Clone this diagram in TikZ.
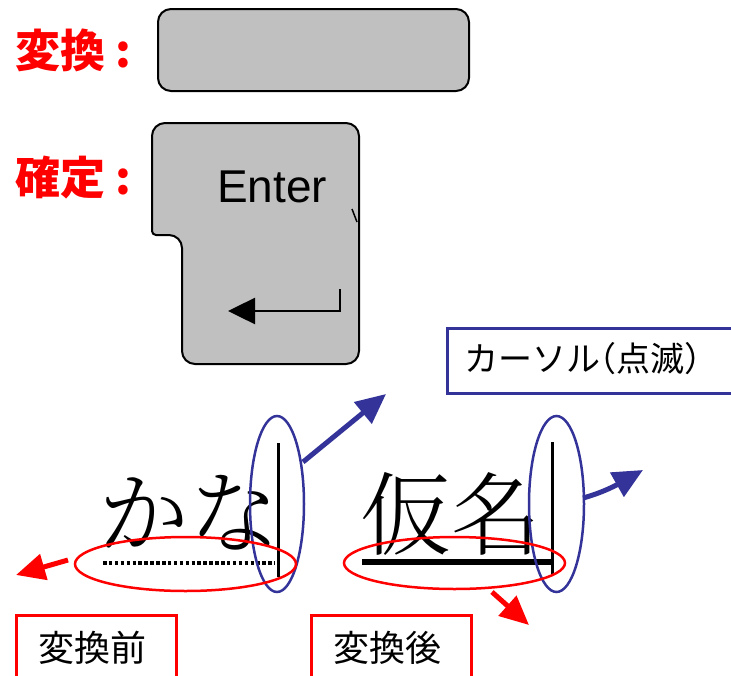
\documentclass[tikz,border=0pt]{standalone}
\usepackage{fontspec}
\setmainfont{Liberation Sans}
\newfontfamily\cjk{Noto Sans CJK JP}
\IfFontExistsTF{Noto Serif CJK JP Light}{\newfontfamily\mincho{Noto Serif CJK JP Light}}{%
  \IfFontExistsTF{Noto Serif CJK JP}{\newfontfamily\mincho{Noto Serif CJK JP}}{\newfontfamily\mincho{Noto Sans CJK JP}}}
\usetikzlibrary{shapes.geometric,arrows.meta}
\definecolor{keygray}{HTML}{C0C0C0}
\definecolor{cblue}{HTML}{333399}
\definecolor{cred}{HTML}{FF0000}
\tikzset{
  keycap/.style={draw=black, line width=2pt, fill=keygray},
  redlabel/.style={text=cred, font=\cjk\bfseries\fontsize{45}{50}\selectfont, inner sep=0pt, anchor=west},
  ovalblue/.style={ellipse, draw=cblue, line width=2.5pt, inner sep=0pt},
  ovalred/.style={ellipse, draw=cred, line width=2.5pt, inner sep=0pt},
  bluearrow/.style={draw=cblue, line width=5pt, -{Triangle[length=30pt,width=27pt]}},
  redarrow/.style={draw=cred, line width=5pt, -{Triangle[length=29pt,width=26pt]}},
  bigword/.style={font=\mincho\fontsize{91}{95}\selectfont, inner sep=0pt},
  cursorline/.style={draw=black, line width=3pt},
}
\begin{document}
\begin{tikzpicture}[x=1pt,y=-1pt]
\useasboundingbox (0,0) rectangle (731,675);
% labels
\node[redlabel] (henkan) at (15,50) {変換\kern10pt:};
\node[redlabel] (kakutei) at (15,178) {確定\kern10pt:};
% space key
\node[keycap, rounded corners=13pt, minimum width=311pt, minimum height=82pt] (space) at (313.5,50) {};
% enter key
\draw[keycap, rounded corners=13pt] (152,180) -- (152,123) -- (359,123) -- (359,364) -- (182,364) -- (182,235) [rounded corners=4pt] -- (152,235) [rounded corners=13pt] -- cycle;
\coordinate (n1) at (352,209);
\coordinate (n2) at (357,222);
\draw[line width=1.5pt] (n1) -- (n2);
\node[anchor=base west, inner sep=0pt, font=\fontsize{46}{50}\selectfont] (enter) at (217,202) {Enter};
\coordinate (r1) at (340,289);
\coordinate (r2) at (340,311);
\coordinate (r3) at (228,311);
\draw[line width=2.5pt, -{Triangle[length=27pt,width=26pt]}] (r1) -- (r2) -- (r3);
% cursor label
\node[draw=cblue, line width=2.5pt, minimum width=290pt, minimum height=65pt, anchor=north west, inner sep=0pt] (curbox) at (446,327) {};
\node[anchor=west, inner sep=0pt, font=\cjk\fontsize{34}{40}\selectfont] (curtext) at (464,359) {カーソル\kern-18pt（点滅）};
% words
\node[bigword] (kana) at (189,513) {かな};
\node[bigword] (kanji) at (451,514) {仮名};
\coordinate (c1t) at (278,443);
\coordinate (c1b) at (278,577);
\draw[cursorline] (c1t) -- (c1b);
\coordinate (c2t) at (552,442);
\coordinate (c2b) at (552,575);
\draw[cursorline] (c2t) -- (c2b);
\coordinate (u1a) at (103,563);
\coordinate (u1b) at (275,563);
\draw[line width=4pt, dash pattern=on 3.5pt off 2.4pt] (u1a) -- (u1b);
\coordinate (u2a) at (362,562);
\coordinate (u2b) at (552,562);
\draw[line width=6pt] (u2a) -- (u2b);
% ovals
\node[ovalblue, minimum width=54pt, minimum height=176pt] (cur1) at (277,504) {};
\node[ovalblue, minimum width=55pt, minimum height=176pt] (cur2) at (556.5,504) {};
\node[ovalred, minimum width=221pt, minimum height=54pt] (ul1) at (185.5,564) {};
\node[ovalred, minimum width=221pt, minimum height=52pt] (ul2) at (454.5,563) {};
% arrows
\coordinate (b1s) at (303,462);
\coordinate (b1e) at (386,394);
\draw[bluearrow] (b1s) -- (b1e);
\coordinate (b2s) at (583,498);
\coordinate (b2e) at (643,470);
\draw[bluearrow] (b2s) .. controls (605,492) and (620,483) .. (b2e);
\coordinate (r1s) at (68,560);
\coordinate (r1e) at (16,575);
\draw[redarrow] (r1s) -- (r1e);
\coordinate (r2s) at (492,592);
\coordinate (r2e) at (529,625);
\draw[redarrow] (r2s) -- (r2e);
% bottom boxes
\node[draw=cred, line width=2.5pt, minimum width=160pt, minimum height=70pt, anchor=north west, inner sep=0pt] (beforebox) at (15,614) {};
\node[draw=cred, line width=2.5pt, minimum width=160pt, minimum height=70pt, anchor=north west, inner sep=0pt] (afterbox) at (310,614) {};
\node[font=\cjk\fontsize{36}{40}\selectfont, inner sep=0pt] (before) at (92,648) {変換前};
\node[font=\cjk\fontsize{36}{40}\selectfont, inner sep=0pt] (after) at (387,648) {変換後};
\end{tikzpicture}
\end{document}
